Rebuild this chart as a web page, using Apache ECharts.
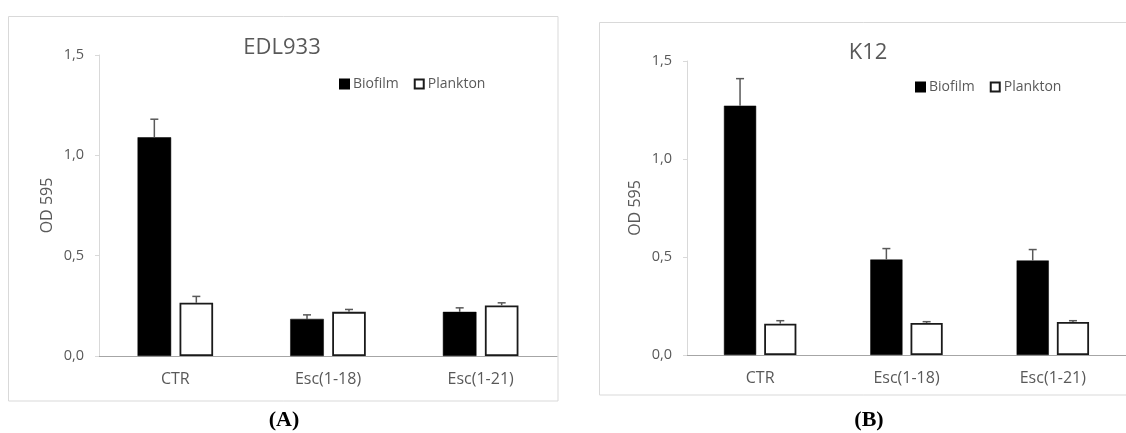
<!DOCTYPE html>
<html>
<head>
<meta charset="utf-8">
<script src="https://cdn.jsdelivr.net/npm/echarts@6/dist/echarts.min.js"></script>
<style>
  html, body { margin: 0; padding: 0; background: #fff; }
  #chart { width: 1126px; height: 433px; }
</style>
</head>
<body>
<div id="chart"></div>
<script>
// 数据
var categories = ['CTR', 'Esc(1-18)', 'Esc(1-21)'];
var yTicks = [0, 0.5, 1.0, 1.5];

// (A) EDL933
var edlBiofilm = [1.09, 0.185, 0.22];
var edlBiofilmErr = [0.09, 0.02, 0.02];
var edlPlankton = [0.265, 0.22, 0.252];
var edlPlanktonErr = [0.032, 0.012, 0.013];

// (B) K12
var k12Biofilm = [1.272, 0.487, 0.482];
var k12BiofilmErr = [0.138, 0.056, 0.056];
var k12Plankton = [0.16, 0.163, 0.168];
var k12PlanktonErr = [0.015, 0.007, 0.007];

var FONT = 'Open Sans';
var GREY = '#595959';
var BAR_W = 0.22, BAR_GAP = 0.25;

var chart = echarts.init(document.getElementById('chart'));

// 误差线：只画向上的一半，带短横帽
function errorSeries(name, idx, values, errs, side) {
    var data = values.map(function(v, i) { return [i, v, errs[i]]; });
    return {
        type: 'custom',
        name: name + ' err',
        xAxisIndex: idx,
        yAxisIndex: idx,
        z: 5,
        silent: true,
        data: data,
        renderItem: function(params, api) {
            var band = api.size([1, 0])[0];
            var w = band * BAR_W;
            var off = side * (w + w * BAR_GAP) / 2;
            var base = api.coord([api.value(0), api.value(1)]);
            var top = api.coord([api.value(0), api.value(1) + api.value(2)]);
            var x = base[0] + off;
            return {
                type: 'group',
                children: [
                    { type: 'line', shape: { x1: x, y1: base[1], x2: x, y2: top[1] }, style: { stroke: GREY, lineWidth: 1.5 } },
                    { type: 'line', shape: { x1: x - 4, y1: top[1], x2: x + 4, y2: top[1] }, style: { stroke: GREY, lineWidth: 1.5 } }
                ]
            };
        }
    };
}

function barSeries(name, idx, values) {
    var black = name === 'Biofilm';
    return {
        type: 'bar',
        name: name,
        xAxisIndex: idx,
        yAxisIndex: idx,
        barWidth: (BAR_W * 100) + '%',
        barGap: (BAR_GAP * 100) + '%',
        data: values,
        itemStyle: {
            color: black ? '#000000' : '#ffffff',
            borderColor: black ? '#000000' : '#1a1a1a',
            borderWidth: black ? 0.5 : 1.8
        }
    };
}

function xAxisOpt(idx) {
    return {
        type: 'category',
        gridIndex: idx,
        data: categories,
        axisLine: { lineStyle: { color: '#a6a6a6', width: 1 } },
        axisTick: { show: false },
        axisLabel: { color: GREY, fontFamily: FONT, fontSize: 16, margin: 15 }
    };
}

function yAxisOpt(idx) {
    return {
        type: 'value',
        gridIndex: idx,
        min: yTicks[0],
        max: yTicks[yTicks.length - 1],
        interval: 0.5,
        name: 'OD 595',
        nameLocation: 'middle',
        nameRotate: 90,
        nameGap: 44,
        nameTextStyle: { color: GREY, fontFamily: FONT, fontSize: 16 },
        axisLine: { show: true, lineStyle: { color: '#d9d9d9' } },
        axisTick: { show: true, length: 4, lineStyle: { color: '#d9d9d9' } },
        splitLine: { show: false },
        axisLabel: {
            color: GREY, fontFamily: FONT, fontSize: 14.5, margin: 15,
            formatter: function(v) { return v.toFixed(1).replace('.', ','); }
        }
    };
}

function legendOpt(left, top) {
    return {
        left: left,
        top: top,
        data: ['Biofilm', 'Plankton'],
        icon: 'rect',
        itemWidth: 9,
        itemHeight: 9,
        itemGap: 15,
        textStyle: { color: GREY, fontFamily: FONT, fontSize: 14, padding: [0, 0, 0, -1] }
    };
}

function label(text, x, y, size, bold, serif) {
    return {
        type: 'text',
        x: x,
        y: y,
        style: {
            text: text,
            fill: serif ? '#000' : GREY,
            font: (bold ? 'bold ' : '') + size + 'px ' + (serif ? '"Liberation Serif"' : '"' + FONT + '"'),
            align: 'center',
            verticalAlign: 'middle'
        }
    };
}

var option = {
    animation: false,
    backgroundColor: '#ffffff',
    grid: [
        { left: 99, top: 55, width: 458, height: 301 },
        { left: 687, top: 61, width: 442, height: 294 }
    ],
    xAxis: [xAxisOpt(0), xAxisOpt(1)],
    yAxis: [yAxisOpt(0), yAxisOpt(1)],
    legend: [legendOpt(334, 72), legendOpt(910, 75)],
    series: [
        barSeries('Biofilm', 0, edlBiofilm),
        barSeries('Plankton', 0, edlPlankton),
        errorSeries('Biofilm', 0, edlBiofilm, edlBiofilmErr, -1),
        errorSeries('Plankton', 0, edlPlankton, edlPlanktonErr, 1),
        barSeries('Biofilm', 1, k12Biofilm),
        barSeries('Plankton', 1, k12Plankton),
        errorSeries('Biofilm', 1, k12Biofilm, k12BiofilmErr, -1),
        errorSeries('Plankton', 1, k12Plankton, k12PlanktonErr, 1)
    ],
    graphic: [
        // 图框
        { type: 'rect', shape: { x: 8.5, y: 16.5, width: 549.5, height: 384.5 }, style: { fill: 'none', stroke: '#d9d9d9', lineWidth: 1 }, z: -1 },
        { type: 'rect', shape: { x: 599.5, y: 22.5, width: 540, height: 372.5 }, style: { fill: 'none', stroke: '#d9d9d9', lineWidth: 1 }, z: -1 },
        label('EDL933', 282, 48, 22, false, false),
        label('K12', 868, 53, 22, false, false),
        label('(A)', 284, 420, 22, true, true),
        label('(B)', 869, 420, 22, true, true)
    ]
};

chart.setOption(option);
</script>
</body>
</html>
